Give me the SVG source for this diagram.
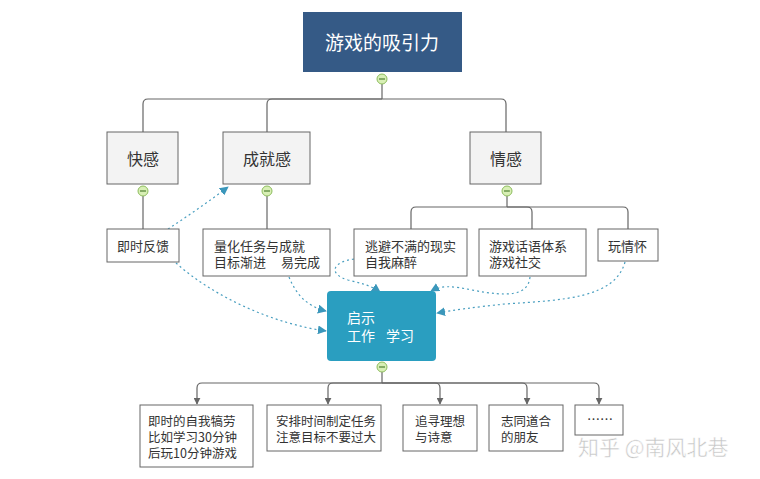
<svg xmlns="http://www.w3.org/2000/svg" width="760" height="479" viewBox="0 0 760 479">
<style>
.t{font-family:"Noto Sans CJK SC","Liberation Sans",sans-serif;fill:#333;}
.c{font-size:13px;}
.s{font-size:12.5px;}
.m{font-size:16px;text-anchor:middle;}
.box{fill:#fff;stroke:#666;stroke-width:1;}
.gbox{fill:#f3f3f3;stroke:#666;stroke-width:1;}
.ln{fill:none;stroke:#666;stroke-width:1.2;}
.dl{fill:none;stroke:#4a9fc0;stroke-width:1.2;stroke-dasharray:2 3;}
.col circle{fill:#d8efb5;stroke:#8ebd5e;stroke-width:1;}
.col line{stroke:#4f7f32;stroke-width:1.2;}
</style>
<defs>
<marker id="da" viewBox="0 0 10 10" refX="9" refY="5" markerWidth="9" markerHeight="9" markerUnits="userSpaceOnUse" orient="auto"><path d="M0,0 L10,5 L0,10 z" fill="#3b97bb"/></marker>
<marker id="ga" viewBox="0 0 10 10" refX="9" refY="5" markerWidth="7" markerHeight="7" markerUnits="userSpaceOnUse" orient="auto"><path d="M0,0 L10,5 L0,10 z" fill="#666"/></marker>
</defs>
<rect width="760" height="479" fill="#fff"/>
<g id="connectors">
<path class="ln" d="M382,84 V99"/>
<path class="ln" d="M382,99 H148 Q143,99 143,104 V132"/>
<path class="ln" d="M382,99 H272 Q267,99 267,104 V132"/>
<path class="ln" d="M382,99 H501 Q506,99 506,104 V132"/>
<path class="ln" d="M143,196 V229"/>
<path class="ln" d="M267,196 V229"/>
<path class="ln" d="M507,196 V207"/>
<path class="ln" d="M507,207 H416 Q411,207 411,212 V229"/>
<path class="ln" d="M507,207 H527 Q532,207 532,212 V229"/>
<path class="ln" d="M507,207 H623 Q628,207 628,212 V229"/>
<path class="ln" d="M382,372 V383"/>
<path class="ln" d="M382,383 H202 Q197,383 197,388 V404" marker-end="url(#ga)"/>
<path class="ln" d="M382,383 H333 Q328,383 328,388 V404" marker-end="url(#ga)"/>
<path class="ln" d="M382,383 H435 Q440,383 440,388 V404" marker-end="url(#ga)"/>
<path class="ln" d="M382,383 H522 Q527,383 527,388 V404" marker-end="url(#ga)"/>
<path class="ln" d="M382,383 H594 Q599,383 599,388 V404" marker-end="url(#ga)"/>
<path class="dl" d="M168,229 C188,216 208,202 228,187" marker-end="url(#da)"/>
<path class="dl" d="M176,263 C215,298 275,324 326,331" marker-end="url(#da)"/>
<path class="dl" d="M289,277 C296,294 306,306 326,311" marker-end="url(#da)"/>
<path class="dl" d="M354,259 C332,262 328,274 348,280 C360,283 370,285 380,292" marker-end="url(#da)"/>
<path class="dl" d="M530,277 C528,296 508,297 472,290 C452,286 442,285 431,291" marker-end="url(#da)"/>
<path class="dl" d="M625,262 C615,298 565,300 505,304 C475,307 455,310 437,313" marker-end="url(#da)"/>
</g>
<g id="root">
<rect x="303" y="12" width="159" height="60" fill="#355a86"/>
<text class="t" x="382" y="50" font-size="19" text-anchor="middle" style="fill:#fff">游戏的吸引力</text>
<g class="col"><circle cx="382" cy="79" r="5"/><line x1="379" y1="79" x2="385" y2="79"/></g>
</g>
<g id="n-kuaigan">
<rect class="gbox" x="107" y="132" width="71" height="52"/>
<text class="t m" x="143" y="165">快感</text>
<g class="col"><circle cx="143" cy="191" r="5"/><line x1="140" y1="191" x2="146" y2="191"/></g>
</g>
<g id="n-chengjiu">
<rect class="gbox" x="223" y="132" width="87" height="52"/>
<text class="t m" x="267" y="165">成就感</text>
<g class="col"><circle cx="267" cy="191" r="5"/><line x1="264" y1="191" x2="270" y2="191"/></g>
</g>
<g id="n-qinggan">
<rect class="gbox" x="470" y="132" width="71" height="52"/>
<text class="t m" x="506" y="165">情感</text>
<g class="col"><circle cx="507" cy="191" r="5"/><line x1="504" y1="191" x2="510" y2="191"/></g>
</g>
<g id="n-jishi">
<rect class="box" x="107" y="229" width="72" height="33"/>
<text class="t c" x="117" y="251">即时反馈</text>
</g>
<g id="n-lianghua">
<rect class="box" x="203" y="229" width="127" height="47"/>
<text class="t c" x="214" y="251">量化任务与成就<tspan x="214" dy="16">目标渐进</tspan><tspan x="281">易完成</tspan></text>
</g>
<g id="n-taobi">
<rect class="box" x="354" y="229" width="113" height="47"/>
<text class="t c" x="365" y="251">逃避不满的现实<tspan x="365" dy="16">自我麻醉</tspan></text>
</g>
<g id="n-huayu">
<rect class="box" x="479" y="229" width="107" height="47"/>
<text class="t c" x="489" y="251">游戏话语体系<tspan x="489" dy="16">游戏社交</tspan></text>
</g>
<g id="n-qinghuai">
<rect class="box" x="598" y="229" width="60" height="32"/>
<text class="t c" x="608" y="251">玩情怀</text>
</g>
<g id="n-qishi">
<rect x="327" y="291" width="109" height="70" rx="4" fill="#2a9ec0"/>
<text class="t" x="347" y="323" font-size="14" style="fill:#fff">启示<tspan x="347" dy="18">工作</tspan><tspan x="386">学习</tspan></text>
<g class="col"><circle cx="382" cy="367" r="5"/><line x1="379" y1="367" x2="385" y2="367"/></g>
</g>
<g id="n-b1">
<rect class="box" x="140" y="405" width="113" height="62"/>
<text class="t s" x="148" y="425.5">即时的自我犒劳<tspan x="148" dy="16">比如学习30分钟</tspan><tspan x="148" dy="16">后玩10分钟游戏</tspan></text>
</g>
<g id="n-b2">
<rect class="box" x="267" y="405" width="114" height="46"/>
<text class="t s" x="276" y="425.5">安排时间制定任务<tspan x="276" dy="16">注意目标不要过大</tspan></text>
</g>
<g id="n-b3">
<rect class="box" x="403" y="405" width="74" height="46"/>
<text class="t s" x="415" y="425.5">追寻理想<tspan x="415" dy="16">与诗意</tspan></text>
</g>
<g id="n-b4">
<rect class="box" x="489" y="405" width="74" height="46"/>
<text class="t s" x="501" y="425.5">志同道合<tspan x="501" dy="16">的朋友</tspan></text>
</g>
<g id="n-b5">
<rect class="box" x="575" y="405" width="48" height="30"/>
<text class="t c" x="587" y="424">……</text>
</g>
<text x="578" y="455" font-family="Noto Sans CJK SC, Liberation Sans, sans-serif" font-size="21" fill="#c4c4c4" stroke="#fff" stroke-width="0.5">知乎 @南风北巷</text>
</svg>
